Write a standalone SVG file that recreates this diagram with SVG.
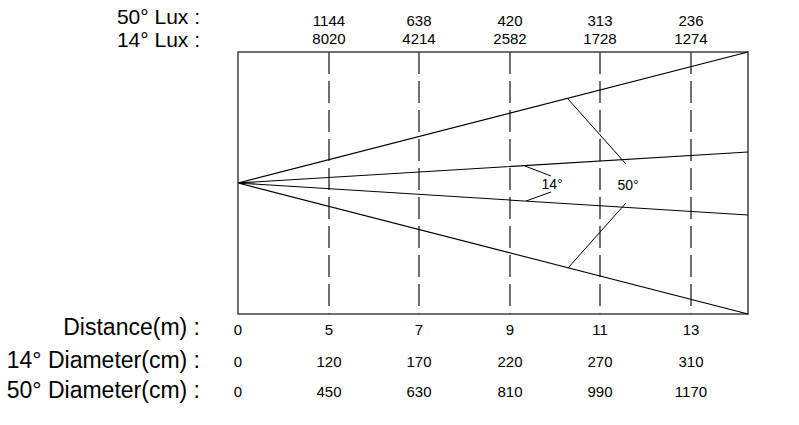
<svg xmlns="http://www.w3.org/2000/svg" width="799" height="425" viewBox="0 0 799 425">
<style>
text{font-family:"Liberation Sans","DejaVu Sans",sans-serif;fill:#000}
.lab{font-size:21px;text-anchor:end}
.lab2{font-size:23px;text-anchor:end}
.num{font-size:15px;text-anchor:middle}
.box{fill:#fff;stroke:#404040;stroke-width:1.5}
.dash{stroke:#404040;stroke-width:1.5;stroke-dasharray:22 7;fill:none}
.beam{stroke:#000;stroke-width:1.1;fill:none}
.lead{stroke:#000;stroke-width:1;fill:none}
</style>
<g id="labels">
<text class="lab" x="200" y="24">50° Lux :</text>
<text class="lab" x="200" y="47">14° Lux :</text>
<text class="lab2" x="200" y="335">Distance(m) :</text>
<text class="lab2" x="200" y="368">14° Diameter(cm) :</text>
<text class="lab2" x="200" y="398">50° Diameter(cm) :</text>
</g>
<g id="lux">
<text class="num" x="329" y="26">1144</text><text class="num" x="329" y="44">8020</text>
<text class="num" x="419" y="26">638</text><text class="num" x="419" y="44">4214</text>
<text class="num" x="510" y="26">420</text><text class="num" x="510" y="44">2582</text>
<text class="num" x="600" y="26">313</text><text class="num" x="600" y="44">1728</text>
<text class="num" x="691" y="26">236</text><text class="num" x="691" y="44">1274</text>
</g>
<g id="chart">
<rect class="box" x="238" y="52" width="510" height="262"/>
<path class="dash" d="M329 52V314M419 52V314M510 52V314M600 52V314M691 52V314"/>
</g>
<g id="connectors">
<path class="beam" d="M238 183L748 52M238 183L748 314M238 183L748 152M238 183L748 215"/>
<path class="lead" d="M568 99L626 164M626 203L568 268M525 166L551 176M551 192L526 201"/>
</g>
<g id="angles">
<text class="num" x="552" y="189" style="font-size:14px">14°</text>
<text class="num" x="628" y="190" style="font-size:14px">50°</text>
</g>
<g id="table">
<text class="num" x="238" y="335">0</text><text class="num" x="329" y="335">5</text><text class="num" x="419" y="335">7</text><text class="num" x="510" y="335">9</text><text class="num" x="600" y="335">11</text><text class="num" x="691" y="335">13</text>
<text class="num" x="238" y="367">0</text><text class="num" x="329" y="367">120</text><text class="num" x="419" y="367">170</text><text class="num" x="510" y="367">220</text><text class="num" x="600" y="367">270</text><text class="num" x="691" y="367">310</text>
<text class="num" x="238" y="397">0</text><text class="num" x="329" y="397">450</text><text class="num" x="419" y="397">630</text><text class="num" x="510" y="397">810</text><text class="num" x="600" y="397">990</text><text class="num" x="691" y="397">1170</text>
</g>
</svg>
